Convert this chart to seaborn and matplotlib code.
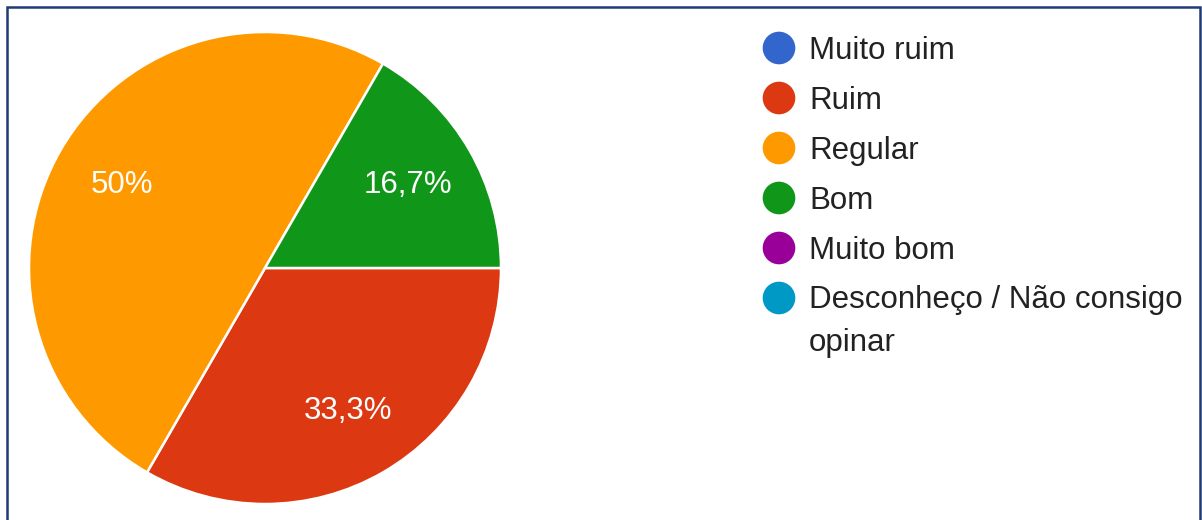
import matplotlib
matplotlib.use("Agg")
import matplotlib.pyplot as plt
from matplotlib.patches import Rectangle
import seaborn as sns

# Survey answers (number of responses per option)
categories = ["Muito ruim", "Ruim", "Regular", "Bom", "Muito bom",
              "Desconheço / Não consigo\nopinar"]
counts = [0, 2, 3, 1, 0, 0]
palette = ["#3366CC", "#DC3912", "#FF9900", "#109618", "#990099", "#0099C6"]

sns.set_theme(style="white")
plt.rcParams["font.family"] = ["Liberation Sans", "DejaVu Sans"]
FS = 22.5

W, H = 1202, 520
fig = plt.figure(figsize=(W / 100, H / 100), dpi=100)
fig.patch.set_facecolor("white")

# pie axes: centre (265, 268) px from top-left, radius 236 px
cx, cy, r = 265, 268, 236
ax = fig.add_axes([(cx - r) / W, (H - cy - r) / H, 2 * r / W, 2 * r / H])

shown = [(v, col) for v, col in zip(counts, palette) if v > 0]


def fmt_pct(p):
    s = f"{p:.1f}".replace(".", ",")
    if s.endswith(",0"):
        s = s[:-2]
    return s + "%"


ax.pie(
    [v for v, _ in shown],
    colors=[col for _, col in shown],
    startangle=0,
    counterclock=False,
    autopct=fmt_pct,
    pctdistance=0.70,
    wedgeprops=dict(edgecolor="white", linewidth=1.8),
    textprops=dict(color="white", fontsize=FS),
)
ax.set_aspect("equal")
ax.set_xlim(-1, 1)
ax.set_ylim(-1, 1)
ax.axis("off")

# legend panel in pixel units (y grows downwards)
lax = fig.add_axes([0, 0, 1, 1], facecolor="none")
lax.set_xlim(0, W)
lax.set_ylim(H, 0)
lax.axis("off")
row0, pitch, line_step = 48, 50, 42
for i, (label, col) in enumerate(zip(categories, palette)):
    y = row0 + pitch * i
    extra = label.count("\n") * line_step
    lax.scatter([779], [y], s=23.5 ** 2, color=col, edgecolor="none")
    lax.text(809, y + 11 + extra, label, fontsize=FS, color="#222222",
             va="baseline", ha="left", linespacing=1.57)

# outer frame
fig.add_artist(Rectangle((7 / W, -0.05), (1200 - 7) / W, (H - 7) / H + 0.05,
                         transform=fig.transFigure, fill=False,
                         edgecolor="#1F3B73", linewidth=1.8))

fig.savefig("out.png", dpi=100, facecolor="white")
